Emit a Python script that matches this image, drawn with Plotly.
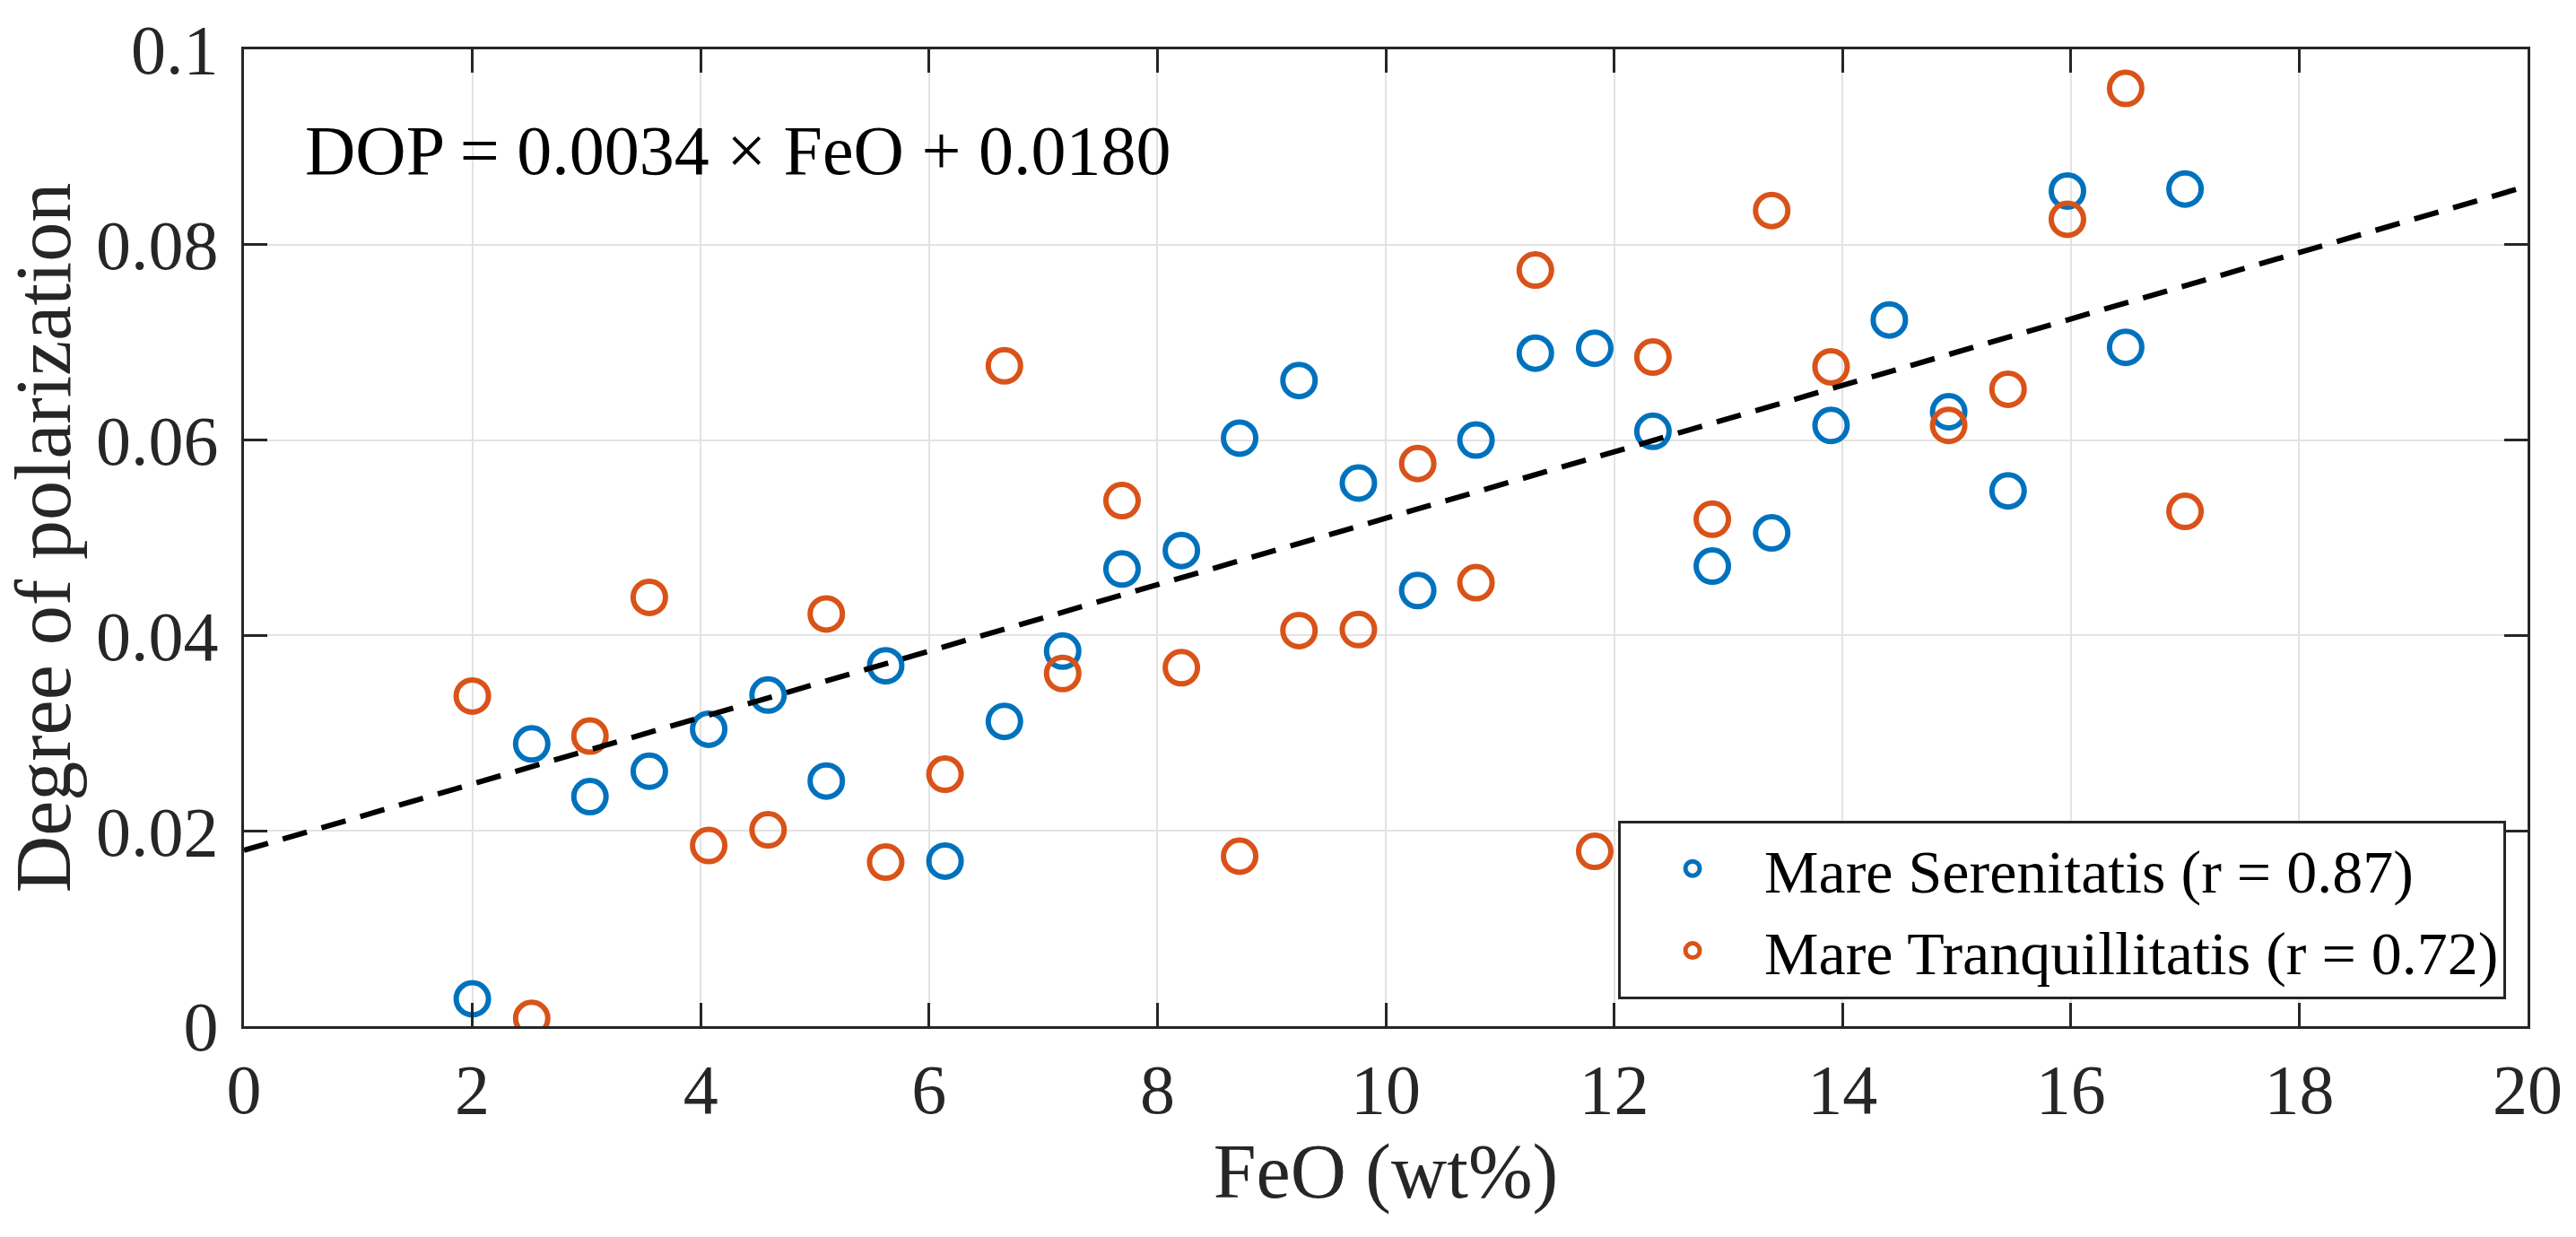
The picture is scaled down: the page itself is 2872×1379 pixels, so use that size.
import plotly.graph_objects as go

# FeO contents (wt%) of the sampled sites
feo = [2.00, 2.52, 3.03, 3.55, 4.07, 4.59, 5.10, 5.62, 6.14, 6.66,
       7.17, 7.69, 8.21, 8.72, 9.24, 9.76, 10.28, 10.79, 11.31, 11.83,
       12.34, 12.86, 13.38, 13.90, 14.41, 14.93, 15.45, 15.97, 16.48, 17.00]

# Degree of polarization, Mare Serenitatis
dop_serenitatis = [0.0028, 0.0289, 0.0235, 0.0261, 0.0304, 0.0339, 0.0251, 0.0369, 0.0169, 0.0312,
                   0.0384, 0.0468, 0.0487, 0.0602, 0.0661, 0.0556, 0.0446, 0.0600, 0.0689, 0.0694,
                   0.0609, 0.0471, 0.0505, 0.0615, 0.0723, 0.0629, 0.0548, 0.0855, 0.0695, 0.0857]

# Mare Tranquillitatis (no visible point at 14.41)
feo_tranquillitatis = [2.00, 2.52, 3.03, 3.55, 4.07, 4.59, 5.10, 5.62, 6.14, 6.66,
                       7.17, 7.69, 8.21, 8.72, 9.24, 9.76, 10.28, 10.79, 11.31, 11.83,
                       12.34, 12.86, 13.38, 13.90, 14.93, 15.45, 15.97, 16.48, 17.00]
dop_tranquillitatis = [0.0338, 0.0008, 0.0297, 0.0439, 0.0185, 0.0201, 0.0422, 0.0168, 0.0258, 0.0676,
                       0.0361, 0.0538, 0.0367, 0.0174, 0.0405, 0.0406, 0.0576, 0.0454, 0.0774, 0.0179,
                       0.0685, 0.0519, 0.0835, 0.0675, 0.0615, 0.0652, 0.0826, 0.0960, 0.0527]

# Linear fit
pendiente = 0.0034
intercepto = 0.0180
fit_x = [0, 20]
fit_y = [pendiente * v + intercepto for v in fit_x]

x_ticks = [0, 2, 4, 6, 8, 10, 12, 14, 16, 18, 20]
y_ticks = [0, 0.02, 0.04, 0.06, 0.08, 0.1]
y_ticktext = ['0', '0.02', '0.04', '0.06', '0.08', '0.1']

AZUL = '#0072BD'
NARANJA = '#D95319'
FUENTE = 'Liberation Serif'

fig = go.Figure()

fig.add_trace(go.Scatter(
    x=feo, y=dop_serenitatis,
    mode='markers',
    name='Mare Serenitatis (r = 0.87)',
    marker=dict(symbol='circle-open', size=36, color=AZUL, line=dict(width=6, color=AZUL))
))

fig.add_trace(go.Scatter(
    x=feo_tranquillitatis, y=dop_tranquillitatis,
    mode='markers',
    name='Mare Tranquillitatis (r = 0.72)',
    marker=dict(symbol='circle-open', size=36, color=NARANJA, line=dict(width=6, color=NARANJA))
))

fig.add_trace(go.Scatter(
    x=fit_x, y=fit_y,
    mode='lines',
    showlegend=False,
    line=dict(color='black', width=6, dash='28px,17px')
))

fig.add_annotation(
    x=0.52, y=0.0897, xref='x', yref='y',
    text='DOP = 0.0034 × FeO + 0.0180',
    showarrow=False, xanchor='left', yanchor='middle',
    font=dict(family=FUENTE, size=78, color='black')
)

eje = dict(
    showline=True, linecolor='#262626', linewidth=3,
    mirror='ticks', ticks='inside', ticklen=26, tickwidth=3, tickcolor='#262626',
    showgrid=True, gridcolor='#e3e3e3', gridwidth=2,
    zeroline=False,
    tickfont=dict(family=FUENTE, size=78, color='#262626'),
)

fig.update_xaxes(
    range=[0, 20], tickvals=x_ticks,
    title=dict(text='FeO (wt%)', font=dict(family=FUENTE, size=86, color='#262626'), standoff=8),
    **eje
)
fig.update_yaxes(
    range=[0, 0.1], tickvals=y_ticks, ticktext=y_ticktext,
    title=dict(text='Degree of polarization', font=dict(family=FUENTE, size=88, color='#262626'), standoff=18),
    ticklabelstandoff=10,
    **eje
)

fig.update_layout(
    width=2872, height=1379,
    margin=dict(l=272, r=54, t=45, b=235),
    plot_bgcolor='white', paper_bgcolor='white',
    legend=dict(
        x=0.9906, y=0.028, xanchor='right', yanchor='bottom',
        bgcolor='white', bordercolor='#262626', borderwidth=3,
        font=dict(family=FUENTE, size=68, color='black'),
        itemwidth=150, tracegroupgap=0
    )
)

fig.write_html('out.html', config={'displayModeBar': False},
               post_script="document.body.style.margin='0';document.body.style.overflow='hidden';")
